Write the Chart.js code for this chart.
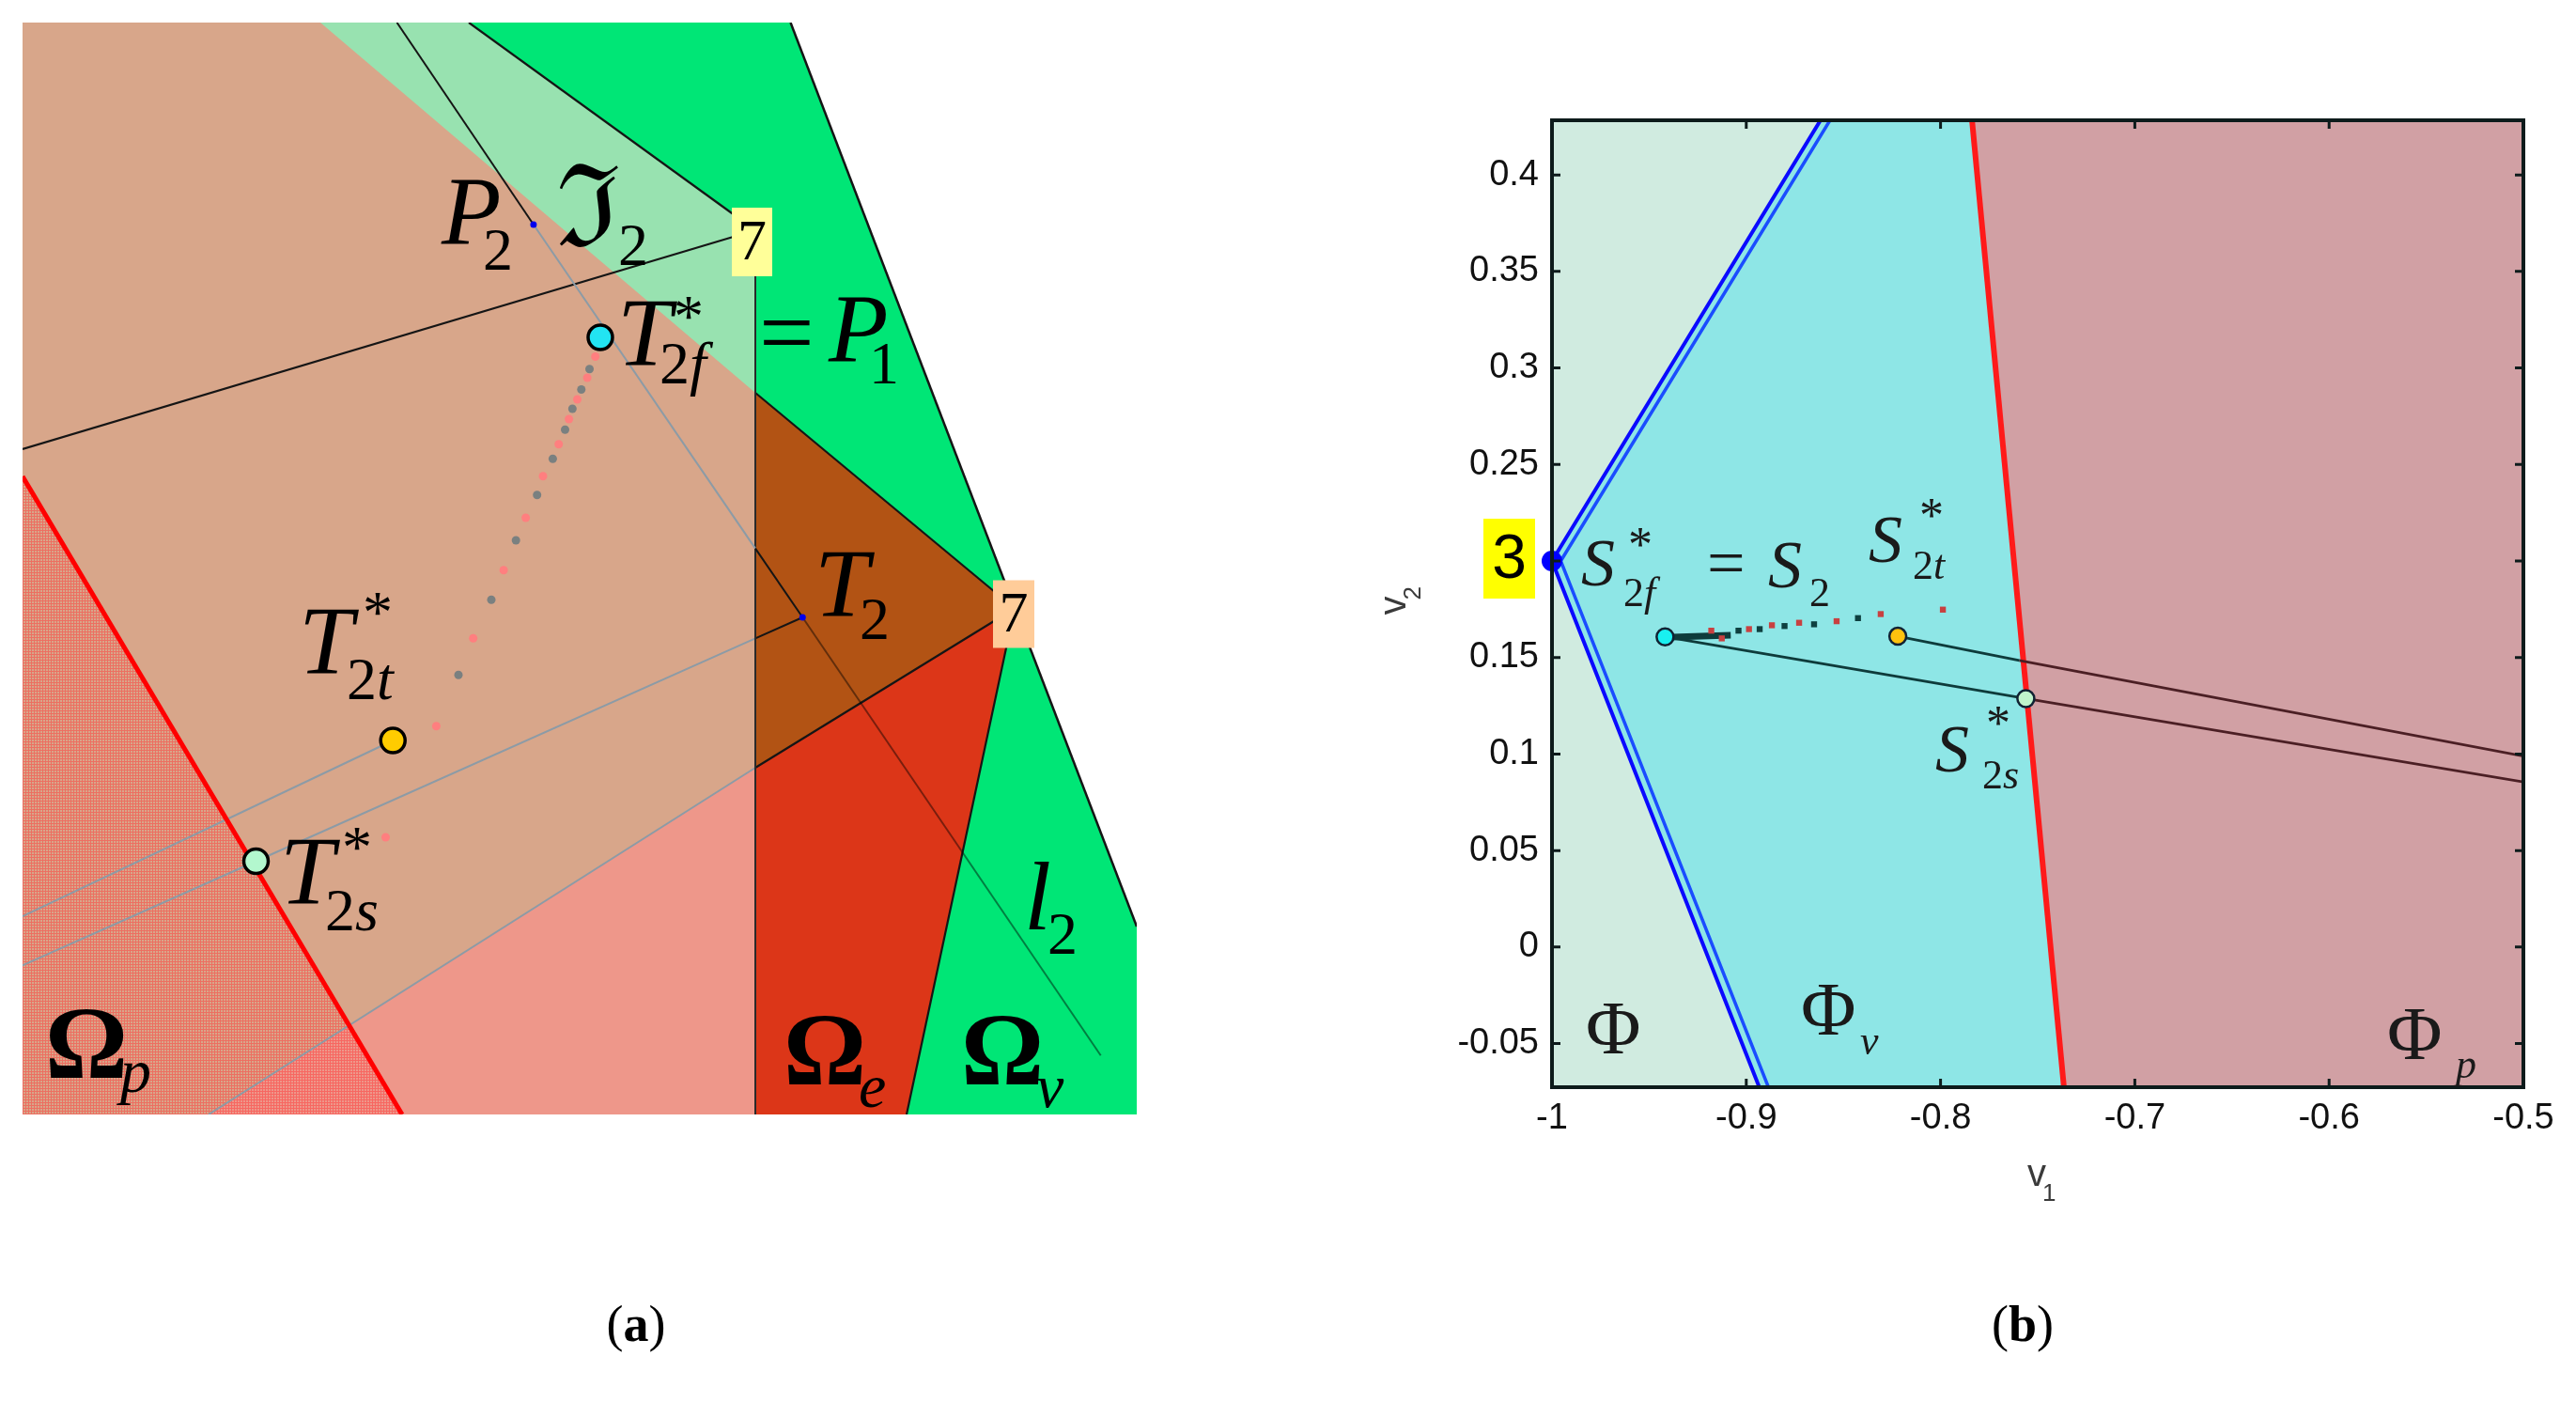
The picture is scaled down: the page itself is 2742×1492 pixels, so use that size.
<!DOCTYPE html>
<html>
<head>
<meta charset="utf-8">
<title>Regions and switching points</title>
<script src="https://cdn.jsdelivr.net/npm/chart.js@4.4.1/dist/chart.umd.min.js"></script>
<style>
  html, body { margin: 0; padding: 0; background: #fff; }
  body { width: 2742px; height: 1492px; position: relative; overflow: hidden; }
  #panelA { position: absolute; left: 0; top: 0; }
  #panelB { position: absolute; left: 1440px; top: 60px; }
  .cap { position: absolute; top: 1377px; width: 200px; font: 54px/64px "Liberation Serif", serif; text-align: center; color: #000; }
</style>
</head>
<body>
<canvas id="panelA" width="1230" height="1220"></canvas>
<canvas id="panelB" width="1302" height="1290"></canvas>
<div class="cap" style="left:577px">(<b>a</b>)</div>
<div class="cap" style="left:2053px">(<b>b</b>)</div>
<script>
// ---------- panel (a): region map, diagram units (x right, y up) ----------
const aSize = [1186, 1162];
const aTan = [[0, 0], [780, 0], [780, 1162], [0, 1162]];
const aLightGreen = [[317, 1162], [475, 1162], [780, 941], [780, 768]];
const aPinkLow = [[198, 0], [780, 369], [780, 0]];
const aGreenTop = [[475, 1162], [817.5, 1162], [1056, 538.5], [780, 768], [780, 941]];
const aBrownTri = [[780, 768], [1056, 538.5], [780, 369]];
const aOmegaE = [[780, 369], [1056, 538.5], [941, 0], [780, 0]];
const aOmegaV = [[1056, 538.5], [1186, 200], [1186, 0], [941, 0]];
const aOmegaP = [[0, 679], [404, 0], [0, 0]];

const aRightEdge = [[817.5, 1162], [1186, 200]];
const aGreenEdge = [[475, 1162], [780, 941]];
const aLongLine = [[0, 708], [780, 941]];
const aTriTop = [[780, 768], [1056, 538.5]];
const aTriLow = [[780, 369], [1056, 538.5]];
const aEdgeE = [[1056, 538.5], [941, 0]];
const aVertical = [[780, 941], [780, 0]];
const aL2 = [[398.5, 1162], [543.9, 947], [780, 602.4], [830.3, 529], [1147.7, 62.7]];
const aG1 = [[0, 211], [394.2, 398]];
const aG2 = [[0, 158.7], [248.5, 269.5], [780, 506.6], [830.3, 529]];
const aG3 = [[198, 0], [780, 369]];
const aRedLine = [[0, 679], [404, 0]];

const aT2f = [[615, 827]];
const aT2t = [[394.2, 398]];
const aT2s = [[248.5, 269.5]];
const aBluePts = [[543.9, 947], [830.3, 529]];
const aPathRed = [[609.7, 806.5], [601.1, 784], [590.5, 761], [581.6, 740], [570.7, 713.3], [554, 679.3],
  [535.6, 635], [512.1, 579.3], [479.7, 506.7], [440.4, 413.3], [386.5, 295]];
const aPathGrey = [[603.5, 793.3], [594.8, 771.5], [585.3, 751], [577.5, 728.7], [564.4, 697.7],
  [547.7, 659.3], [525.2, 611], [499, 547.7], [464, 467.7]];

// ---------- panel (b): v1 / v2 plane ----------
const bXTicks = [-1, -0.9, -0.8, -0.7, -0.6, -0.5];
const bYTicks = [-0.05, 0, 0.05, 0.1, 0.15, 0.2, 0.25, 0.3, 0.35, 0.4];
const bXRange = [-1, -0.5];
const bYRange = [-0.0726, 0.4283];
const bCyan = [[-1, 0.2], [-0.8618, 0.4283], [-0.7838, 0.4283], [-0.7365, -0.0726], [-0.8933, -0.0726]];
const bPink = [[-0.7838, 0.4283], [-0.5, 0.4283], [-0.5, -0.0726], [-0.7365, -0.0726]];
const bBlueOuter = [[-0.8618, 0.4283], [-1, 0.2], [-0.8933, -0.0726]];
const bBlueInner = [[-0.8569, 0.4283], [-0.9955, 0.2], [-0.8886, -0.0726]];
const bRedLine = [[-0.7838, 0.4283], [-0.7365, -0.0726]];
const bLowerIn = [[-0.9418, 0.1607], [-0.7561, 0.1287]];
const bLowerOut = [[-0.7561, 0.1287], [-0.5, 0.0855]];
const bUpperIn = [[-0.822, 0.161], [-0.7594, 0.1485]];
const bUpperOut = [[-0.7594, 0.1485], [-0.5, 0.0989]];
const bThick = [[-0.9418, 0.1605], [-0.908, 0.1615]];
const bRedDots = [[-0.918, 0.1639], [-0.9126, 0.1599], [-0.8986, 0.1647], [-0.8868, 0.1667], [-0.8728, 0.168],
  [-0.8535, 0.1688], [-0.8308, 0.1725], [-0.7988, 0.1748]];
const bDarkDots = [[-0.904, 0.1639], [-0.8931, 0.1647], [-0.8803, 0.1663], [-0.8651, 0.1672], [-0.8425, 0.1704]];
const bS2f = [[-0.9418, 0.1607]];
const bS2t = [[-0.822, 0.161]];
const bS2s = [[-0.7561, 0.1287]];
const bVertex = [[-1, 0.2]];

const SERIF = '"Liberation Serif", "Times New Roman", serif';
const SANS = '"Liberation Sans", Arial, sans-serif';
const it = s => `italic ${s}px ${SERIF}`;
const rm = s => `${s}px ${SERIF}`;
const bd = s => `bold ${s}px ${SERIF}`;

const aLabels = [
  {at: [446, 926], parts: [['P', it(104), 0, 0], ['2', rm(64), 44, 27]]},
  {at: [568, 924], parts: [['\u2111', rm(122), 0, 0], ['2', rm(64), 66, 20]]},
  {at: [633, 797], parts: [['T', it(104), 0, 0], ['*', rm(64), 60, -31], ['2', rm(64), 45, 19], ['f', it(64), 77, 19],
    ['=', rm(104), 151, 0], ['P', it(104), 225, -4], ['1', rm(64), 268, 19]]},
  {at: [294, 469], parts: [['T', it(104), 0, 0], ['*', rm(64), 68, -44], ['2', rm(64), 51, 27], ['t', it(64), 83, 27]]},
  {at: [274, 224], parts: [['T', it(104), 0, 0], ['*', rm(64), 66, -39], ['2', rm(64), 48, 28], ['s', it(64), 80, 28]]},
  {at: [843, 530], parts: [['T', it(104), 0, 0], ['2', rm(64), 48, 24]]},
  {at: [1066, 197], parts: [['l', it(104), 0, 0], ['2', rm(64), 25, 26]]},
  {at: [24, 39], parts: [['\u03A9', bd(110), 0, 0], ['p', it(66), 80, 15]]},
  {at: [810, 32], parts: [['\u03A9', bd(110), 0, 0], ['e', it(66), 80, 24]]},
  {at: [999, 32], parts: [['\u03A9', bd(110), 0, 0], ['v', it(66), 80, 24]]}
];
const aBoxes = [
  {at: [780, 941], box: [-25, -24, 43, 73], fill: '#FFFF99', text: '7', font: rm(62)},
  {at: [1056, 538.5], box: [-23, -30, 44, 72], fill: '#FFCC99', text: '7', font: rm(62)}
];
const bLabels = [
  {at: [-0.985, 0.1875], parts: [['S', it(72), 0, 0], ['*', rm(52), 50, -26], ['2', rm(44), 45, 22], ['f', it(44), 67, 22],
    ['=', rm(72), 134, 0], ['S', it(72), 199, 2], ['2', rm(44), 243, 22]]},
  {at: [-0.837, 0.1996], parts: [['S', it(72), 0, 0], ['*', rm(52), 54, -32], ['2', rm(44), 47, 18], ['t', it(44), 69, 18]]},
  {at: [-0.8027, 0.091], parts: [['S', it(72), 0, 0], ['*', rm(52), 54, -34], ['2', rm(44), 50, 18], ['s', it(44), 72, 18]]},
  {at: [-0.9826, -0.0551], parts: [['\u03A6', rm(80), 0, 0]]},
  {at: [-0.8719, -0.0454], parts: [['\u03A6', rm(80), 0, 0], ['v', it(44), 63, 21]]},
  {at: [-0.5701, -0.0579], parts: [['\u03A6', rm(80), 0, 0], ['p', it(44), 73, 20]]}
];
const bBoxes = [{at: [-1, 0.2], box: [-73, -45, 55, 85], fill: '#FFFF00', text: '3', font: `66px ${SANS}`}];

const xy = arr => arr.map(([x, y]) => ({x, y}));

function area(arr, color) {
  // start at the leftmost vertex, go round, then step to the rightmost one
  let lo = 0, hi = 0;
  arr.forEach((p, i) => { if (p[0] < arr[lo][0]) lo = i; if (p[0] > arr[hi][0]) hi = i; });
  const ring = arr.slice(lo).concat(arr.slice(0, lo + 1), [arr[hi]]);
  return {data: xy(ring), fill: 'shape', backgroundColor: color, borderColor: 'rgba(0,0,0,0)', borderWidth: 1, pointRadius: 0};
}
function line(arr, color, width, colors) {
  const ds = {data: xy(arr), borderColor: color, borderWidth: width, pointRadius: 0, fill: false};
  if (colors) ds.segment = {borderColor: c => colors[c.p0DataIndex]};
  return ds;
}
function marks(arr, color, radius, border, style) {
  return {data: xy(arr), showLine: false, pointRadius: radius, pointBackgroundColor: color,
    pointBorderColor: border ? border[0] : color, pointBorderWidth: border ? border[1] : 0,
    pointStyle: style || 'circle'};
}
// first in the list is painted first
const layered = list => list.map((d, i) => Object.assign(d, {order: list.length - i}));

function drawParts(ctx, px, py, parts, color) {
  ctx.save();
  ctx.fillStyle = color || '#000';
  ctx.textAlign = 'left';
  ctx.textBaseline = 'alphabetic';
  parts.forEach(([t, font, dx, dy]) => { ctx.font = font; ctx.fillText(t, px + dx, py + dy); });
  ctx.restore();
}
function drawBoxes(ctx, x, y, boxes) {
  boxes.forEach(b => {
    const px = x.getPixelForValue(b.at[0]), py = y.getPixelForValue(b.at[1]);
    const [dx, dy, w, h] = b.box;
    ctx.save();
    ctx.fillStyle = b.fill;
    ctx.fillRect(px + dx, py + dy, w, h);
    ctx.fillStyle = '#000';
    ctx.font = b.font;
    ctx.textAlign = 'center';
    ctx.textBaseline = 'middle';
    ctx.fillText(b.text, px + dx + w / 2, py + dy + h / 2 + 2);
    ctx.restore();
  });
}
const decor = draw => ({id: 'decor', afterDatasetsDraw: chart => draw(chart, chart.ctx, chart.scales.x, chart.scales.y)});

function baseOptions() {
  return {animation: false, responsive: false, events: [], devicePixelRatio: 1,
    plugins: {legend: {display: false}, tooltip: {enabled: false}}};
}

// dotted fill for the Omega_p region
const ctxA = document.getElementById('panelA').getContext('2d');
const tile = document.createElement('canvas');
tile.width = 3; tile.height = 3;
const tg = tile.getContext('2d');
tg.fillStyle = 'rgba(255,55,55,0.5)';
tg.fillRect(0, 0, 3, 1);
tg.fillRect(0, 1, 1, 2);
const dotted = ctxA.createPattern(tile, 'repeat');

const GREY = '#8c9ba6';
const INK = '#151515';

new Chart(ctxA, {
  type: 'line',
  data: {
    datasets: layered([
      area(aTan, '#D8A68A'),
      area(aLightGreen, '#98E2B0'),
      area(aPinkLow, '#EE978A'),
      area(aGreenTop, '#00E676'),
      area(aBrownTri, '#B25314'),
      area(aOmegaE, '#DC3618'),
      area(aOmegaV, '#00E676'),
      area(aOmegaP, dotted),
      line(aG1, GREY, 2),
      line(aG2, GREY, 2, [GREY, GREY, INK]),
      line(aG3, GREY, 2),
      line(aRightEdge, INK, 2.5),
      line(aGreenEdge, INK, 2.2),
      line(aLongLine, INK, 2.2),
      line(aTriTop, INK, 2.2),
      line(aTriLow, INK, 2.2),
      line(aEdgeE, INK, 2.2),
      line(aVertical, '#2a2a2a', 2),
      line(aL2, INK, 2, [INK, GREY, INK, 'rgba(0,0,0,0.45)']),
      line(aRedLine, '#FF0000', 5),
      marks(aPathRed, '#FF7F7F', 4.5),
      marks(aPathGrey, '#7a8080', 4.5),
      marks(aT2f, '#22E4F2', 13, ['#000', 3.5]),
      marks(aT2t, '#FFCC00', 13, ['#000', 3.5]),
      marks(aT2s, '#B3F7CE', 13, ['#000', 3.5]),
      marks(aBluePts, '#0000EE', 3.5)
    ])
  },
  options: Object.assign(baseOptions(), {
    layout: {padding: {left: 24, top: 24, right: 20, bottom: 34}},
    scales: {
      x: {type: 'linear', min: 0, max: aSize[0], display: false},
      y: {type: 'linear', min: 0, max: aSize[1], display: false}
    }
  }),
  plugins: [decor((chart, ctx, x, y) => {
    drawBoxes(ctx, x, y, aBoxes);
    aLabels.forEach(l => drawParts(ctx, x.getPixelForValue(l.at[0]), y.getPixelForValue(l.at[1]), l.parts));
  })]
});

const tickFont = {family: '"Liberation Sans", Arial, sans-serif', size: 38};
const TEAL = '#0E3B3B';
const MAROON = '#4B1F24';

new Chart(document.getElementById('panelB'), {
  type: 'line',
  data: {
    datasets: layered([
      area([[bXRange[0], bYRange[0]], [bXRange[1], bYRange[0]], [bXRange[1], bYRange[1]], [bXRange[0], bYRange[1]]], '#D0EBE0'),
      area(bCyan, '#8EE6E6'),
      area(bPink, '#D1A0A4'),
      line(bBlueOuter, '#0a0aff', 4),
      line(bBlueInner, '#1a4dff', 3.5),
      line(bRedLine, '#FF1A1A', 6),
      line(bLowerIn, TEAL, 2.8),
      line(bLowerOut, MAROON, 2.8),
      line(bUpperIn, TEAL, 2.8),
      line(bUpperOut, MAROON, 2.8),
      line(bThick, TEAL, 7),
      marks(bRedDots, '#C84040', 4.5, null, 'rect'),
      marks(bDarkDots, '#0E4040', 4.5, null, 'rect'),
      marks(bS2f, '#19F0F0', 9, ['#123', 2.5]),
      marks(bS2t, '#FFC20E', 9, ['#123', 2.5]),
      marks(bS2s, '#C0F5CC', 9, ['#123', 2.5]),
      Object.assign(marks(bVertex, '#0000FF', 11), {clip: false})
    ])
  },
  options: Object.assign(baseOptions(), {
    layout: {padding: {left: 0, top: 68, right: 56, bottom: 0}},
    scales: {
      x: {
        type: 'linear', min: bXRange[0], max: bXRange[1],
        afterFit: s => { s.height = 193; },
        afterBuildTicks: s => { s.ticks = bXTicks.map(v => ({value: v})); },
        grid: {display: false, drawTicks: false}, border: {display: false},
        ticks: {autoSkip: false, maxRotation: 0, padding: 11, font: tickFont, color: '#111', callback: v => String(v)}
      },
      y: {
        type: 'linear', min: bYRange[0], max: bYRange[1],
        afterFit: s => { s.width = 212; },
        afterBuildTicks: s => { s.ticks = bYTicks.map(v => ({value: v})); },
        grid: {display: false, drawTicks: false}, border: {display: false},
        ticks: {autoSkip: false, padding: 14, font: tickFont, color: '#111', callback: v => (v === 0.2 ? '' : String(v))}
      }
    }
  }),
  plugins: [decor((chart, ctx, x, y) => {
    const {left, right, top, bottom} = chart.chartArea;
    ctx.save();
    ctx.strokeStyle = '#0d1b1b';
    ctx.lineWidth = 3;
    ctx.beginPath();
    bXTicks.forEach(v => {
      const p = x.getPixelForValue(v);
      ctx.moveTo(p, top); ctx.lineTo(p, top + 9);
      ctx.moveTo(p, bottom); ctx.lineTo(p, bottom - 9);
    });
    bYTicks.forEach(v => {
      const p = y.getPixelForValue(v);
      ctx.moveTo(left, p); ctx.lineTo(left + 9, p);
      ctx.moveTo(right, p); ctx.lineTo(right - 9, p);
    });
    ctx.stroke();
    ctx.lineWidth = 4;
    ctx.strokeRect(left, top, right - left, bottom - top);

    // axis titles
    const cx = (left + right) / 2, cy = (top + bottom) / 2;
    ctx.fillStyle = '#3a3a3a';
    ctx.font = `40px ${SANS}`;
    ctx.fillText('v', cx - 11, bottom + 105);
    ctx.font = `26px ${SANS}`;
    ctx.fillText('1', cx + 5, bottom + 121);
    ctx.translate(left - 156, cy + 12);
    ctx.rotate(-Math.PI / 2);
    ctx.font = `40px ${SANS}`;
    ctx.fillText('v', 0, 0);
    ctx.font = `26px ${SANS}`;
    ctx.fillText('2', 16, 16);
    ctx.restore();

    drawBoxes(ctx, x, y, bBoxes);
    bLabels.forEach(l => drawParts(ctx, x.getPixelForValue(l.at[0]), y.getPixelForValue(l.at[1]), l.parts, '#1a1a1a'));
  })]
});
</script>
</body>
</html>
